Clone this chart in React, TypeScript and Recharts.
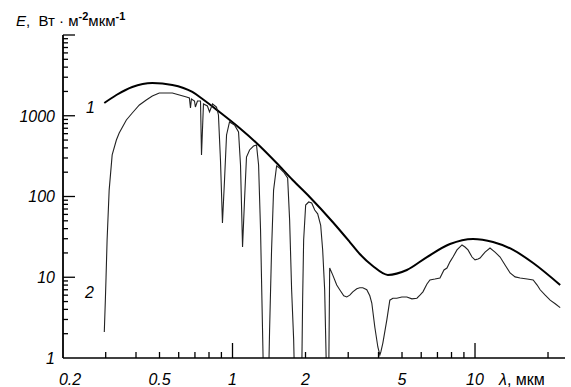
import React from 'react';
import { LineChart, Line, XAxis, YAxis } from 'recharts';

// curve 1 (smooth envelope), wavelength in мкм and E in Вт·м-2·мкм-1
const envelopeLambda = [0.296, 0.332, 0.386, 0.467, 0.565, 0.683, 0.752, 0.884, 1.069, 1.256, 1.52, 1.77, 2.081, 2.589, 3.045, 3.348, 3.789, 4.371, 5.236, 6.336, 7.884, 9.811, 11.87, 14.36, 17.37, 22.45];
const envelopeE = [1438, 1807, 2270, 2545, 2403, 1969, 1612, 1113, 705, 460, 260, 160, 98.6, 48.3, 27.3, 19.4, 13.8, 10.7, 12.3, 17.8, 25.8, 29.8, 27.3, 21.8, 15.0, 8.0];

// curve 2 (with absorption bands); 0.5 = falls below the axis
const spectrumLambda = [
  0.296, 0.299, 0.301, 0.304, 0.31, 0.319, 0.332, 0.341, 0.365, 0.386, 0.413, 0.441, 0.467, 0.499, 0.534, 0.565, 0.604, 0.646,
  0.664, 0.671, 0.677, 0.697, 0.703, 0.717, 0.738, 0.745, 0.759, 0.788, 0.804, 0.827, 0.859, 0.875, 0.892, 0.909, 0.927, 0.945,
  0.972, 1.019, 1.059, 1.079, 1.1, 1.121, 1.142, 1.176, 1.221, 1.256, 1.281, 1.305, 1.33, 1.343, 1.408, 1.422, 1.449, 1.477,
  1.52, 1.564, 1.624, 1.688, 1.72, 1.753, 1.787, 1.804, 1.928, 1.946, 1.965, 2.003, 2.061, 2.121, 2.183, 2.245, 2.31, 2.354,
  2.399, 2.445, 2.492, 2.516, 2.589, 2.69, 2.768, 2.876, 2.959, 3.045, 3.133, 3.254, 3.348, 3.445, 3.578, 3.683, 3.753, 3.863,
  3.975, 4.051, 4.09, 4.168, 4.329, 4.454, 4.584, 4.761, 4.993, 5.236, 5.491, 5.76, 5.928, 6.099, 6.336, 6.518, 6.835, 7.169,
  7.447, 7.662, 7.884, 8.112, 8.426, 8.837, 9.093, 9.357, 9.719, 10.0, 10.29, 10.49, 11.0, 11.53, 12.09, 12.69, 13.3, 13.95,
  14.63, 15.35, 16.4, 17.37, 18.04, 18.56, 19.47, 20.41, 21.41, 22.45,
];
const spectrumE = [
  2.1, 5.2, 10.1, 28.9, 120, 327, 501, 612, 886, 1082, 1359, 1567, 1756, 1913, 1913, 1913, 1807, 1707,
  1659, 1247, 1612, 1523, 1283, 1523, 1523, 327, 1398, 1320, 1113, 1398, 1283, 1022, 283, 47, 160, 578,
  837, 768, 629, 246, 23.7, 90.5, 308, 377, 422, 434, 246, 38.5, 2.2, 0.5, 0.5, 2.2, 21.8, 120,
  239, 225, 201, 170, 51, 7.0, 1.7, 0.5, 0.5, 5.2, 28.9, 78.5, 85.5, 83, 68, 61, 44, 21.8,
  7.0, 0.5, 0.5, 13.0, 10.7, 8.0, 7.0, 5.9, 5.7, 6.0, 6.6, 7.2, 7.4, 7.4, 7.0, 5.9, 4.8, 2.4,
  1.37, 1.09, 1.19, 1.53, 2.96, 5.2, 5.5, 5.5, 5.7, 5.7, 5.4, 5.5, 6.0, 6.6, 8.25, 9.25, 9.5, 9.8,
  12.3, 13.0, 15.5, 17.8, 21.8, 25.1, 23.7, 21.8, 17.8, 16.4, 16.8, 17.3, 20.5, 23.0, 20.5, 17.8, 14.2, 11.3,
  10.1, 9.8, 9.5, 9.25, 8.0, 7.0, 6.0, 5.2, 4.7, 4.2,
];

const xTicks = [0.2, 0.3, 0.4, 0.5, 0.6, 0.7, 0.8, 0.9, 1, 2, 3, 4, 5, 6, 7, 8, 9, 10, 20];
const xLabels = [0.2, 0.5, 1, 2, 5, 10];
const xMajor = [1, 10];
const yTicks = [1, 2, 3, 4, 5, 6, 7, 8, 9, 10, 20, 30, 40, 50, 60, 70, 80, 90, 100, 200, 300, 400, 500, 600, 700, 800, 900, 1000, 2000, 3000, 4000, 5000, 6000, 7000, 8000, 9000, 10000];
const yLabels = [1, 10, 100, 1000];
const yMajor = [1, 10, 100, 1000, 10000];

const envelope = envelopeLambda.map((l, i) => ({ l, e: envelopeE[i] }));
const spectrum = spectrumLambda.map((l, i) => ({ l, e: spectrumE[i] }));

const font = '"Liberation Sans", Arial, sans-serif';

const XTick = (props: any) => {
  const { x, y, payload } = props;
  const v = payload.value;
  const len = xMajor.includes(v) ? 15 : 6;
  return (
    <g>
      {v !== 0.2 && <line x1={x} x2={x} y1={y} y2={y - len} stroke="#000" strokeWidth={1.3} />}
      {xLabels.includes(v) && (
        <text x={v === 0.2 ? x + 7 : x} y={y + 27} textAnchor="middle" fontFamily={font} fontStyle="italic" fontSize={16} fill="#000">
          {String(v)}
        </text>
      )}
    </g>
  );
};

const YTick = (props: any) => {
  const { x, y, payload } = props;
  const v = payload.value;
  const len = yMajor.includes(v) ? 12 : 5;
  return (
    <g>
      {v !== 1 && <line x1={x} x2={x + len} y1={y} y2={y} stroke="#000" strokeWidth={1.3} />}
      {yLabels.includes(v) && (
        <text x={x - 8} y={y} dy="0.36em" textAnchor="end" fontFamily={font} fontStyle="italic" fontSize={16} fill="#000">
          {String(v)}
        </text>
      )}
    </g>
  );
};

const txt: React.CSSProperties = { position: 'absolute', fontFamily: font, color: '#000', whiteSpace: 'nowrap', lineHeight: 1 };

export default function App() {
  return (
    <div style={{ position: 'absolute', left: 0, top: 0, width: 571, height: 387, background: '#fff' }}>
      <LineChart width={571} height={387} margin={{ top: 35, right: 6, bottom: 0, left: 0 }}>
        <XAxis
          dataKey="l"
          type="number"
          scale="log"
          domain={[0.2, 23.5]}
          allowDataOverflow
          ticks={xTicks}
          interval={0}
          height={29}
          tickSize={0}
          tickMargin={0}
          tick={<XTick />}
          axisLine={{ stroke: '#000', strokeWidth: 1.5 }}
        />
        <YAxis
          dataKey="e"
          type="number"
          scale="log"
          domain={[1, 10000]}
          allowDataOverflow
          ticks={yTicks}
          interval={0}
          width={63}
          tickSize={0}
          tickMargin={0}
          tick={<YTick />}
          axisLine={{ stroke: '#000', strokeWidth: 1.8 }}
        />
        <Line data={envelope} dataKey="e" type="monotone" stroke="#000" strokeWidth={2} dot={false} isAnimationActive={false} />
        <Line data={spectrum} dataKey="e" type="linear" stroke="#222" strokeWidth={1.1} dot={false} isAnimationActive={false} />
      </LineChart>
      <div style={{ ...txt, left: 16, top: 11, fontSize: 15 }}>
        <i>E</i>, &nbsp;Вт · м<sup style={{ fontSize: 11, fontWeight: 'bold' }}>-2</sup>мкм<sup style={{ fontSize: 11, fontWeight: 'bold' }}>-1</sup>
      </div>
      <div style={{ ...txt, left: 499, top: 372, fontSize: 16 }}>
        <i>λ</i>, мкм
      </div>
      <div style={{ ...txt, left: 86, top: 100, fontSize: 16, fontStyle: 'italic' }}>1</div>
      <div style={{ ...txt, left: 85, top: 285, fontSize: 16, fontStyle: 'italic' }}>2</div>
    </div>
  );
}
